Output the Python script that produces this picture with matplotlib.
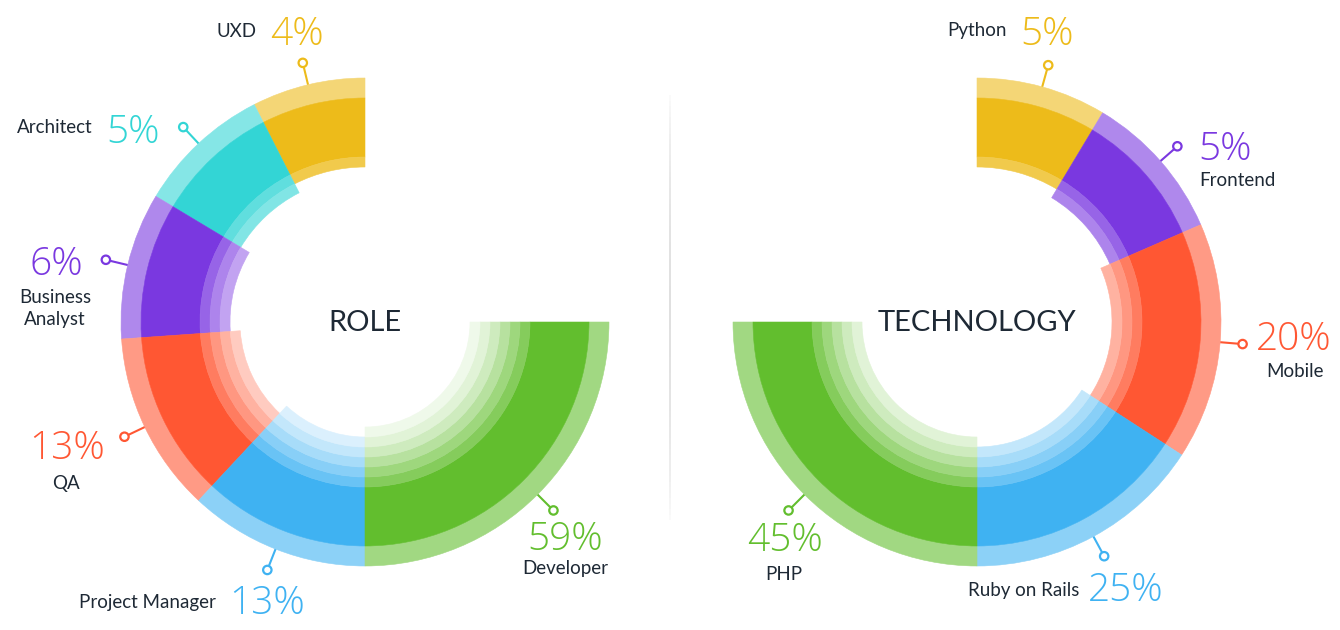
import numpy as np
import matplotlib
matplotlib.use("Agg")
import matplotlib.pyplot as plt
from matplotlib.patches import Wedge, Circle
from matplotlib.collections import LineCollection
from matplotlib.colors import to_rgb

# ---------------------------------------------------------------- data
role_labels = ["UXD", "Architect", "Business\nAnalyst", "QA",
               "Project Manager", "Developer"]
role_values = [4, 5, 6, 13, 13, 59]
tech_labels = ["Python", "Frontend", "Mobile", "Ruby on Rails", "PHP"]
tech_values = [5, 5, 20, 25, 45]

# ---------------------------------------------------------------- style
YELLOW, TEAL, PURPLE = "#EDBB1A", "#33D5D5", "#7A38E0"
RED, BLUE, GREEN = "#FF5733", "#3FB2F2", "#62BE2E"
DARK = "#1E2935"
role_colors = [YELLOW, TEAL, PURPLE, RED, BLUE, GREEN]
tech_colors = [YELLOW, PURPLE, RED, BLUE, GREEN]

# angular extent of each segment (degrees), drawn from 12 o'clock
role_spans = [27, 32, 35, 43, 43, 90]
tech_spans = [31, 35.5, 56.5, 57, 90]

R_OUT, R_LIGHT, R_SOLID, RING_W = 244, 224, 165, 10
RING_ALPHAS = [0.78, 0.62, 0.46, 0.31, 0.19, 0.10]
LIGHT_ALPHA = 0.6

# label placement in pixels: (x, baseline, ha) for percent and for name
role_pos = [((270, 45, "left"), (257, 37, "right")),
            ((106, 143, "left"), (93, 133, "right")),
            ((56, 275, "center"), (55, 303, "center")),
            ((67, 459, "center"), (66, 489, "center")),
            ((229, 614, "left"), (216, 608, "right")),
            ((565, 550, "center"), (565, 574, "center"))]
tech_pos = [((1020, 45, "left"), (1007, 36, "right")),
            ((1198, 160, "left"), (1199, 186, "left")),
            ((1294, 350, "center"), (1295, 377, "center")),
            ((1088, 601, "left"), (1079, 596, "right")),
            ((785, 551, "center"), (784, 580, "center"))]

FONT = ["Lato", "DejaVu Sans"]
PCT_FONT = ["Open Sans", "DejaVu Sans"]


def tint(c, a):
    r, g, b = to_rgb(c)
    return (1 - a + a * r, 1 - a + a * g, 1 - a + a * b)


def band(ax, c, r, w, a1, a2, color, z=2):
    # y axis is inverted, so screen angle a maps to data angle -a
    lo, hi = sorted((-a1, -a2))
    ax.add_patch(Wedge(c, r, lo, hi, width=w, facecolor=color,
                       edgecolor=color, lw=0.4, zorder=z))


def donut(ax, c, title, labels, values, colors, spans, pos, direction):
    a = 90.0
    for i, (lab, val, col, sp, (pp, npos)) in enumerate(
            zip(labels, values, colors, spans, pos)):
        a1, a2 = a, a + direction * sp
        a = a2
        band(ax, c, R_OUT, R_OUT - R_LIGHT, a1, a2, tint(col, LIGHT_ALPHA))
        band(ax, c, R_LIGHT, R_LIGHT - R_SOLID, a1, a2, col)
        for j in range(i + 1):
            band(ax, c, R_SOLID - RING_W * j, RING_W, a1, a2,
                 tint(col, RING_ALPHAS[j]))

        # connector at the middle of the segment
        mid = np.deg2rad((a1 + a2) / 2)
        ux, uy = np.cos(mid), -np.sin(mid)
        ax.plot([c[0] + 240 * ux, c[0] + 262 * ux],
                [c[1] + 240 * uy, c[1] + 262 * uy],
                color=col, lw=1.5, zorder=1, solid_capstyle="butt")
        ax.add_patch(Circle((c[0] + 266.5 * ux, c[1] + 266.5 * uy), 4.2,
                            facecolor="white", edgecolor=col, lw=1.6,
                            zorder=3))

        ax.text(pp[0], pp[1], f"{val}%", ha=pp[2], va="baseline",
                color=col, fontsize=28, family=PCT_FONT, fontweight="light")
        for k, line in enumerate(lab.split("\n")):
            ax.text(npos[0], npos[1] + 22 * k, line, ha=npos[2],
                    va="baseline", color=DARK, fontsize=13.5, family=FONT)

    ax.text(c[0], c[1] + 1, title, ha="center", va="center", color=DARK,
            fontsize=21, family=FONT)


fig = plt.figure(figsize=(13.4, 6.3), dpi=100)
ax = fig.add_axes([0, 0, 1, 1])
ax.set_xlim(0, 1340)
ax.set_ylim(630, 0)
ax.set_aspect("equal")
ax.axis("off")

# faint divider between the two charts
ys = np.linspace(90, 520, 80)
segs = [[(670, ys[k]), (670, ys[k + 1])] for k in range(len(ys) - 1)]
t = (ys[:-1] - 90) / 430
alphas = np.sin(np.pi * t) ** 0.6
ax.add_collection(LineCollection(
    segs, colors=[(0.88, 0.88, 0.88, al) for al in alphas], linewidths=1.4,
    zorder=0))

donut(ax, (365, 322), "ROLE", role_labels, role_values, role_colors,
      role_spans, role_pos, +1)
donut(ax, (977, 322), "TECHNOLOGY", tech_labels, tech_values, tech_colors,
      tech_spans, tech_pos, -1)

fig.savefig("out.png", dpi=100, facecolor="white")
